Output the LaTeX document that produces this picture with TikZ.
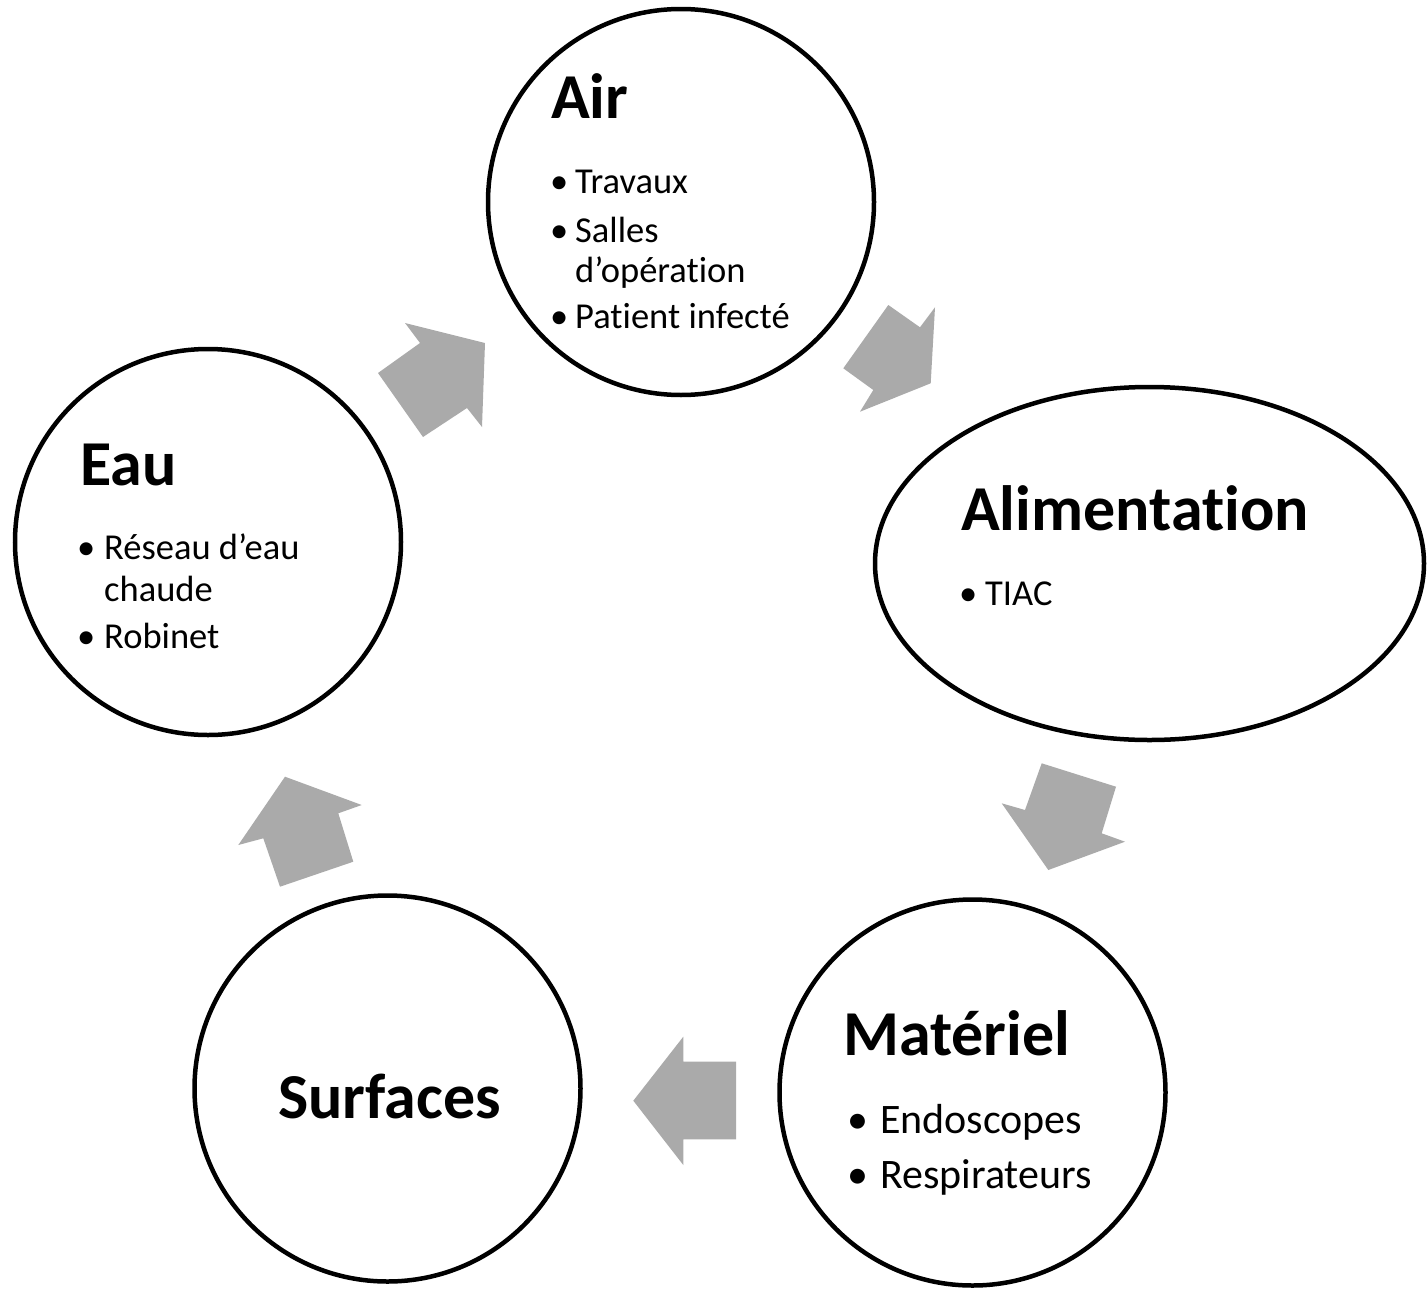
\documentclass[tikz,border=0pt]{standalone}
\usepackage{fontspec}
\setmainfont{Carlito}[Ligatures={NoCommon,NoRare,NoContextual}]
\usetikzlibrary{shapes.geometric}
\definecolor{arrowgray}{HTML}{AAAAAA}
\tikzset{
  ring/.style={draw=black, line width=4.5pt, circle, minimum size=386pt, inner sep=0pt},
  oval/.style={draw=black, line width=4.5pt, ellipse, minimum width=549pt, minimum height=353pt, inner sep=0pt},
  title/.style={anchor=base west, inner sep=0pt, font=\fontsize{64}{64}\selectfont\bfseries},
  item/.style={anchor=base west, inner sep=0pt, font=\fontsize{36.5}{40}\selectfont},
  bigitem/.style={anchor=base west, inner sep=0pt, font=\fontsize{42}{48}\selectfont},
  blockarrow/.style={fill=arrowgray, draw=none},
}
\begin{document}
\begin{tikzpicture}[x=1pt,y=-1pt]
\useasboundingbox (0,0) rectangle (1427,1293);
\fill[white] (0,0) rectangle (1427,1293);

% shapes
\node[ring] (air) at (681,202) {};
\node[ring] (eau) at (208,542) {};
\node[oval] (alim) at (1149.5,563.5) {};
\node[ring] (mat) at (972.5,1092.5) {};
\node[ring] (surf) at (387.5,1088.5) {};

% block arrows
\fill[blockarrow] (405,323) -- (485,343) -- (482,427) -- (467,408) -- (423,437) -- (378,373) -- (420,343) -- cycle;
\fill[blockarrow] (888.3,305) -- (920,327.3) -- (935,307.3) -- (930.7,383.3) -- (860,411.7) -- (873.3,390) -- (843.3,368.3) -- cycle;
\fill[blockarrow] (1041.7,763.3) -- (1116,786.7) -- (1101.7,833.3) -- (1125,841.7) -- (1048.3,870) -- (1001.7,803.3) -- (1025,810) -- cycle;
\fill[blockarrow] (683.3,1036.7) -- (683.3,1061.7) -- (736,1061.7) -- (736,1139.3) -- (683.3,1139.3) -- (683.3,1165) -- (633.3,1100.7) -- cycle;
\fill[blockarrow] (285,776.7) -- (361.7,805) -- (338.3,813.3) -- (353.3,861.7) -- (280,886.7) -- (263.3,838.3) -- (238.3,845) -- cycle;

% Air
\node[title] (airT) at (551,118) {Air};
\node[item] (airB1) at (550,193) {•};
\node[item] (airI1) at (575,193) {Travaux};
\node[item] (airB2) at (550,242) {•};
\node[item] (airI2) at (575,242) {Salles};
\node[item] (airI2b) at (575,282) {d’opérat\kern0pt ion};
\node[item] (airB3) at (550,328) {•};
\node[item] (airI3) at (575,328) {Pat\kern0pt ient infecté};

% Eau
\node[title] (eauT) at (80,485) {Eau};
\node[item] (eauB1) at (77,559) {•};
\node[item] (eauI1) at (104,559) {Réseau d’eau};
\node[item] (eauI1b) at (104,601) {chaude};
\node[item] (eauB2) at (77,648) {•};
\node[item] (eauI2) at (104,648) {Robinet};

% Alimentation
\node[title] (alimT) at (961,530) {Alimentat\kern0pt ion};
\node[item] (alimB1) at (959,605) {•};
\node[item] (alimI1) at (985,605) {TIAC};

% Materiel
\node[title] (matT) at (843,1055) {Matériel};
\node[bigitem] (matB1) at (847,1133) {•};
\node[bigitem] (matI1) at (880,1133) {Endoscopes};
\node[bigitem] (matB2) at (847,1188) {•};
\node[bigitem] (matI2) at (880,1188) {Respirateurs};

% Surfaces
\node[title] (surfT) at (278,1118) {Surfaces};
\end{tikzpicture}
\end{document}
